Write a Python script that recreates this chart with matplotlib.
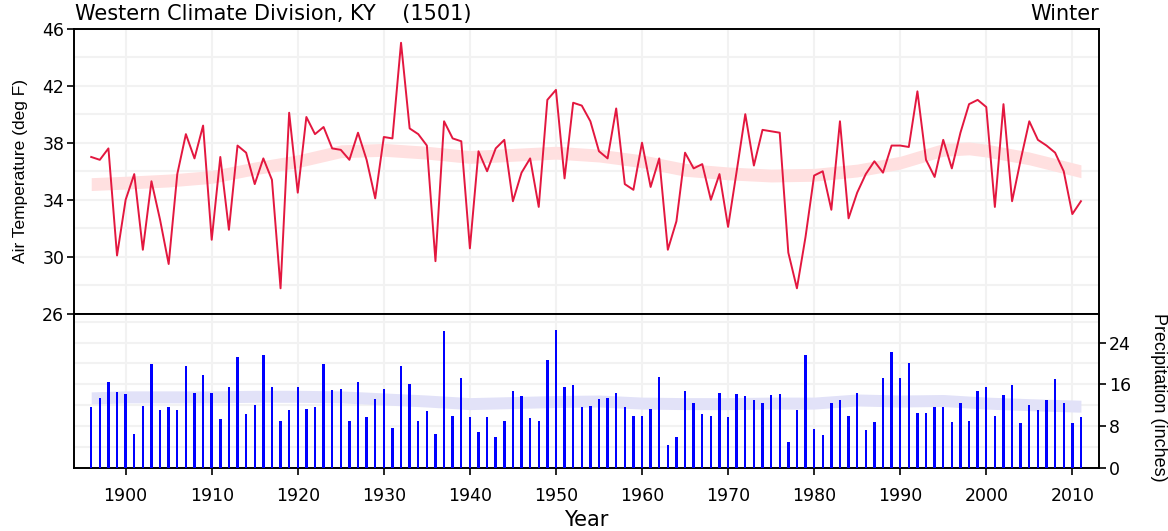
import matplotlib
matplotlib.use("Agg")
import matplotlib.pyplot as plt
import numpy as np

plt.rcParams['font.family'] = ['DejaVu Sans']

years = list(range(1896, 2012))

temperature = [
    37.0, 36.8, 37.6, 30.1, 34.0, 35.8, 30.5, 35.3, 32.6, 29.5,   # 1896-1905
    35.8, 38.6, 36.9, 39.2, 31.2, 37.0, 31.9, 37.8, 37.3, 35.1,   # 1906-1915
    36.9, 35.4, 27.8, 40.1, 34.5, 39.8, 38.6, 39.1, 37.6, 37.5,   # 1916-1925
    36.8, 38.7, 36.8, 34.1, 38.4, 38.3, 45.0, 39.0, 38.6, 37.8,   # 1926-1935
    29.7, 39.5, 38.3, 38.1, 30.6, 37.4, 36.0, 37.6, 38.2, 33.9,   # 1936-1945
    35.9, 36.9, 33.5, 41.0, 41.7, 35.5, 40.8, 40.6, 39.5, 37.4,   # 1946-1955
    36.9, 40.4, 35.1, 34.7, 38.0, 34.9, 36.9, 30.5, 32.5, 37.3,   # 1956-1965
    36.2, 36.5, 34.0, 35.8, 32.1, 36.0, 40.0, 36.4, 38.9, 38.8,   # 1966-1975
    38.7, 30.3, 27.8, 31.4, 35.7, 36.0, 33.3, 39.5, 32.7, 34.5,   # 1976-1985
    35.8, 36.7, 35.9, 37.8, 37.8, 37.7, 41.6, 36.8, 35.6, 38.2,   # 1986-1995
    36.2, 38.7, 40.7, 41.0, 40.5, 33.5, 40.7, 33.9, 36.8, 39.5,   # 1996-2005
    38.2, 37.8, 37.3, 36.0, 33.0, 33.9,                           # 2006-2011
]

precipitation = [
    11.6, 13.4, 16.5, 14.5, 14.2, 6.4, 11.9, 19.9, 11.1, 11.6,    # 1896-1905
    11.1, 19.6, 14.4, 17.8, 14.4, 9.3, 15.4, 21.3, 10.3, 12.1,    # 1906-1915
    21.7, 15.4, 9.0, 11.1, 15.4, 11.3, 11.6, 19.9, 14.9, 15.2,    # 1916-1925
    9.0, 16.5, 9.8, 13.2, 15.2, 7.7, 19.6, 16.0, 9.0, 10.8,       # 1926-1935
    6.4, 26.2, 10.0, 17.2, 9.8, 6.9, 9.8, 5.9, 9.0, 14.7,         # 1936-1945
    13.7, 9.5, 9.0, 20.6, 26.5, 15.4, 15.9, 11.6, 11.8, 13.1,     # 1946-1955
    13.3, 14.4, 11.6, 10.0, 10.0, 11.3, 17.5, 4.4, 5.9, 14.7,     # 1956-1965
    12.4, 10.3, 10.0, 14.4, 9.8, 14.2, 13.7, 12.9, 12.4, 13.9,    # 1966-1975
    14.2, 4.9, 11.0, 21.6, 7.4, 6.2, 12.4, 12.9, 10.0, 14.4,      # 1976-1985
    7.2, 8.8, 17.2, 22.3, 17.2, 20.1, 10.5, 10.5, 11.6, 11.6,     # 1986-1995
    8.8, 12.4, 9.0, 14.7, 15.4, 10.0, 13.9, 15.9, 8.5, 12.1,      # 1996-2005
    11.0, 12.9, 17.0, 12.4, 8.5, 9.8,                             # 2006-2011
]

# smoothed trend bands
trend_years = [1896, 1900, 1905, 1910, 1915, 1920, 1925, 1930, 1935, 1940,
               1945, 1950, 1955, 1960, 1965, 1970, 1975, 1980, 1985, 1990,
               1995, 1998, 2000, 2005, 2011]
temp_trend = [35.1, 35.2, 35.35, 35.6, 36.2, 36.7, 37.4, 37.5, 37.3, 37.0,
              37.15, 37.3, 37.1, 36.7, 36.1, 35.85, 35.7, 35.75, 36.05, 36.6,
              37.5, 37.6, 37.45, 36.9, 36.0]
precip_trend = [13.4, 13.6, 13.6, 13.6, 13.7, 13.7, 13.6, 13.2, 12.8, 12.3,
                12.5, 12.7, 12.8, 12.4, 12.3, 12.3, 12.4, 12.4, 13.0, 12.8,
                12.9, 12.6, 12.4, 12.1, 11.8]

temp_ticks = [26, 30, 34, 38, 42, 46]
precip_ticks = [0, 8, 16, 24]
year_ticks = list(range(1900, 2011, 10))

title_left = "Western Climate Division, KY    (1501)"
title_right = "Winter"

fig = plt.figure(figsize=(11.68, 5.31), dpi=100)
L, R = 74 / 1168, 1099 / 1168
y_top = 1 - 28.5 / 531
y_mid = 1 - 314 / 531
y_bot = 1 - 467.7 / 531

ax1 = fig.add_axes([L, y_mid, R - L, y_top - y_mid])
ax2 = fig.add_axes([L, y_bot, R - L, y_mid - y_bot], sharex=ax1)

grid_color = '#f2f2f2'
for ax in (ax1, ax2):
    for s in ax.spines.values():
        s.set_linewidth(1.4)
        s.set_color('black')
    ax.set_axisbelow(True)

tick_font = 12.5

# ---- temperature panel ----
tt = np.array(temp_trend)
ax1.fill_between(trend_years, tt - 0.45, tt + 0.45, color='#ffe0e0', lw=0, zorder=1)
ax1.plot(years, temperature, color='#e3173f', lw=1.4, zorder=3)
ax1.set_ylim(26, 46)
ax1.set_xlim(1894, 2013.1)
ax1.set_yticks(temp_ticks)
ax1.set_yticks(list(range(26, 47, 2)), minor=True)
ax1.tick_params(axis='y', which='major', direction='out', length=5, width=1.2,
                labelsize=tick_font, pad=2)
ax1.tick_params(axis='y', which='minor', length=0)
ax1.tick_params(axis='x', which='both', length=0, labelbottom=False)
ax1.set_xticks(year_ticks)
ax1.grid(True, which='both', color=grid_color, lw=1.5)
ax1.set_ylabel("Air Temperature (deg F)", fontsize=12.5, family='Liberation Sans')
ax1.yaxis.set_label_coords((21 - 74) / 1025, 0.5)
ax1.yaxis.label.set_va('center')

# ---- precipitation panel ----
pt = np.array(precip_trend)
ax2.fill_between(trend_years, pt - 1.15, pt + 1.15, color='#e2e2f8', lw=0, zorder=1)
ax2.bar(years, precipitation, width=0.28, color='#0000ff', zorder=3)
ax2.set_ylim(0, 29.5)
ax2.yaxis.tick_right()
ax2.yaxis.set_label_position('right')
ax2.set_yticks(precip_ticks)
ax2.set_yticks(list(range(0, 29, 4)), minor=True)
ax2.tick_params(axis='y', which='major', direction='out', length=5, width=1.2,
                labelsize=tick_font, pad=2)
ax2.tick_params(axis='y', which='minor', length=0)
ax2.set_xticks(year_ticks)
ax2.tick_params(axis='x', direction='out', length=5, width=1.2,
                labelsize=tick_font, pad=9)
ax2.grid(True, which='both', color=grid_color, lw=1.5)
ax2.set_ylabel("Precipitation (inches)", fontsize=13, rotation=-90,
               family='Liberation Sans')
ax2.yaxis.set_label_coords((1158 - 74) / 1025, 0.46)
ax2.yaxis.label.set_va('center')
ax2.set_xlabel("Year", fontsize=15)
ax2.xaxis.set_label_coords(0.5, (467.7 - 520) / 153.7)
ax2.xaxis.label.set_va('center')

fig.text(L + 0.001, 1 - 14 / 531, title_left, fontsize=15, ha='left', va='center')
fig.text(R, 1 - 14 / 531, title_right, fontsize=15, ha='right', va='center')

fig.savefig("out.png", dpi=100)
